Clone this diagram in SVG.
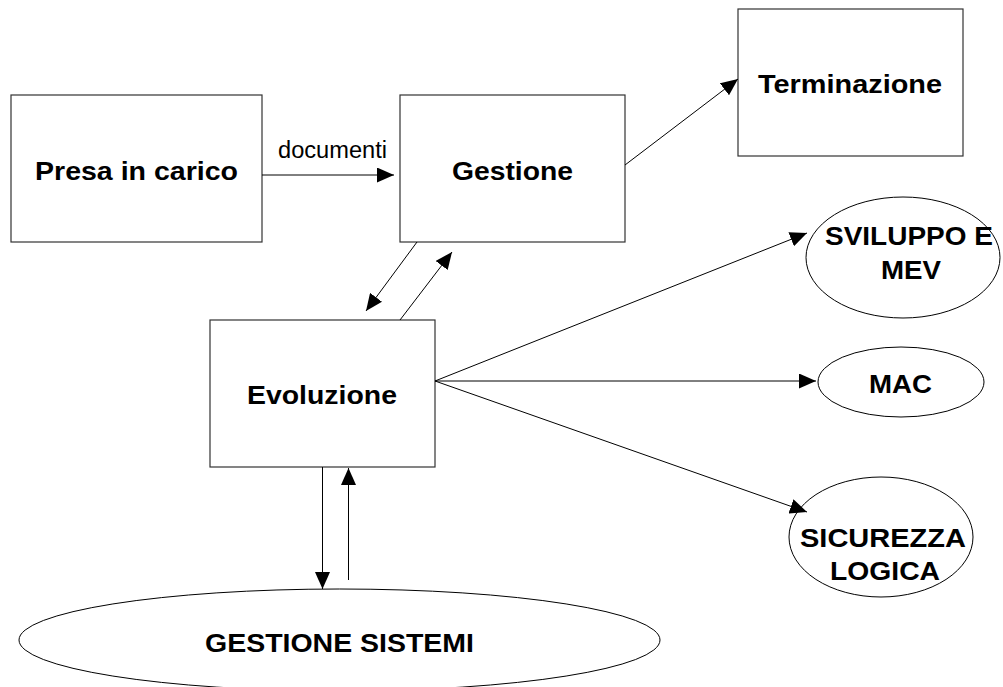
<svg xmlns="http://www.w3.org/2000/svg" width="1003" height="687" viewBox="0 0 1003 687">
<defs>
<style>
.box{fill:#fff;stroke:#333;stroke-width:1.2}
.ell{fill:#fff;stroke:#000;stroke-width:1}
.lbl{font-family:"Liberation Sans",Arial,sans-serif;font-weight:bold;font-size:26px;fill:#000;text-anchor:middle}
.small{font-family:"Liberation Sans",Arial,sans-serif;font-size:23px;fill:#000;text-anchor:middle}
.con line{stroke:#000;stroke-width:1;marker-end:url(#ah)}
</style>
<marker id="ah" viewBox="0 0 17 15" markerWidth="17" markerHeight="15" refX="17" refY="7.5" orient="auto" markerUnits="userSpaceOnUse">
<path d="M0,0 L17,7.5 L0,15 z" fill="#000"/>
</marker>
</defs>
<rect width="1003" height="687" fill="#fff"/>
<g id="presa">
<rect class="box" x="11" y="95" width="251" height="147"/>
<text class="lbl" x="136.5" y="180" textLength="203" lengthAdjust="spacingAndGlyphs">Presa in carico</text>
</g>
<g id="gestione">
<rect class="box" x="400" y="95" width="225" height="147"/>
<text class="lbl" x="512.5" y="180" textLength="121" lengthAdjust="spacingAndGlyphs">Gestione</text>
</g>
<g id="terminazione">
<rect class="box" x="738" y="9" width="225" height="147"/>
<text class="lbl" x="850" y="93" textLength="184" lengthAdjust="spacingAndGlyphs">Terminazione</text>
</g>
<g id="evoluzione">
<rect class="box" x="210" y="320" width="225" height="147"/>
<text class="lbl" x="322" y="404" textLength="150" lengthAdjust="spacingAndGlyphs">Evoluzione</text>
</g>
<g id="sviluppo">
<ellipse class="ell" cx="903" cy="257.5" rx="97" ry="60.5"/>
<text class="lbl" x="909" y="245" textLength="168" lengthAdjust="spacingAndGlyphs">SVILUPPO E</text>
<text class="lbl" x="911" y="279" textLength="60" lengthAdjust="spacingAndGlyphs">MEV</text>
</g>
<g id="mac">
<ellipse class="ell" cx="901" cy="382" rx="83" ry="35"/>
<text class="lbl" x="900.5" y="393" textLength="63" lengthAdjust="spacingAndGlyphs">MAC</text>
</g>
<g id="sicurezza">
<ellipse class="ell" cx="881" cy="537" rx="92" ry="60"/>
<text class="lbl" x="883" y="547" textLength="166" lengthAdjust="spacingAndGlyphs">SICUREZZA</text>
<text class="lbl" x="885" y="580" textLength="110" lengthAdjust="spacingAndGlyphs">LOGICA</text>
</g>
<g id="gestione-sistemi">
<ellipse class="ell" cx="339.5" cy="640" rx="320.5" ry="51"/>
<text class="lbl" x="339.5" y="652" textLength="269" lengthAdjust="spacingAndGlyphs">GESTIONE SISTEMI</text>
</g>
<g id="connectors" class="con">
<line x1="262" y1="175" x2="394" y2="175"/>
<line x1="625" y1="165" x2="738" y2="79"/>
<line x1="417" y1="242" x2="366" y2="311"/>
<line x1="400" y1="320" x2="452" y2="252"/>
<line x1="435" y1="381" x2="807" y2="233"/>
<line x1="435" y1="381" x2="816" y2="381"/>
<line x1="435" y1="381" x2="807" y2="512"/>
<line x1="322.5" y1="467" x2="322.5" y2="589"/>
<line x1="348.5" y1="580" x2="348.5" y2="468"/>
</g>
<text class="small" x="332.5" y="158" textLength="109" lengthAdjust="spacingAndGlyphs">documenti</text>
</svg>
